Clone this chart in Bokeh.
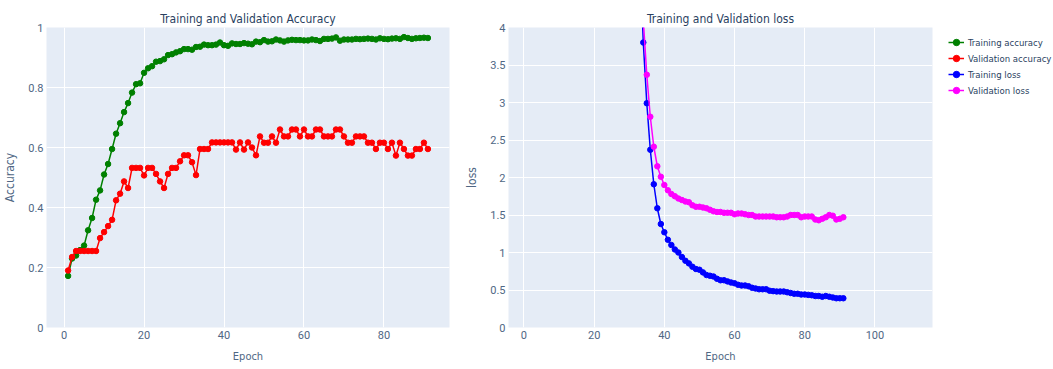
from bokeh.plotting import figure
from bokeh.models import Range1d, FixedTicker, Legend, LegendItem
from bokeh.layouts import row
from bokeh.embed import file_html
from bokeh.resources import INLINE

# ---------------- data ----------------
epochs = list(range(1, 92))

train_acc = [0.172, 0.23, 0.24, 0.258, 0.273, 0.324, 0.365, 0.426, 0.457, 0.51,
             0.545, 0.595, 0.646, 0.681, 0.718, 0.748, 0.783, 0.811, 0.814, 0.849,
             0.864, 0.871, 0.886, 0.888, 0.894, 0.908, 0.911, 0.917, 0.921, 0.928,
             0.928, 0.926, 0.935, 0.936, 0.943, 0.941, 0.941, 0.943, 0.95, 0.941,
             0.939, 0.947, 0.945, 0.945, 0.948, 0.946, 0.944, 0.953, 0.951, 0.958,
             0.953, 0.954, 0.96, 0.957, 0.953, 0.957, 0.959, 0.958, 0.958, 0.957,
             0.957, 0.96, 0.958, 0.955, 0.962, 0.962, 0.963, 0.967, 0.956, 0.96,
             0.96, 0.96, 0.962, 0.961, 0.962, 0.963, 0.962, 0.96, 0.964, 0.962,
             0.961, 0.963, 0.964, 0.962, 0.968, 0.965, 0.962, 0.964, 0.965, 0.966, 0.965]

val_acc = [0.19, 0.235, 0.255, 0.255, 0.255, 0.255, 0.255, 0.255, 0.298, 0.318,
           0.338, 0.359, 0.424, 0.446, 0.487, 0.465, 0.532, 0.532, 0.532, 0.507,
           0.532, 0.532, 0.512, 0.487, 0.465, 0.512, 0.532, 0.532, 0.554, 0.574,
           0.574, 0.551, 0.508, 0.595, 0.595, 0.595, 0.617, 0.617, 0.617, 0.617,
           0.617, 0.617, 0.593, 0.617, 0.593, 0.617, 0.6, 0.574, 0.637, 0.616,
           0.616, 0.637, 0.616, 0.66, 0.637, 0.637, 0.66, 0.66, 0.637, 0.66,
           0.637, 0.637, 0.66, 0.66, 0.637, 0.637, 0.637, 0.66, 0.66, 0.637,
           0.616, 0.616, 0.637, 0.637, 0.637, 0.616, 0.616, 0.595, 0.616, 0.616,
           0.595, 0.616, 0.573, 0.616, 0.595, 0.573, 0.573, 0.595, 0.595, 0.616, 0.595]

loss_epochs = list(range(33, 92))

train_loss = [5.0, 3.80, 2.99, 2.37, 1.91, 1.59, 1.38, 1.27, 1.17, 1.10,
              1.04, 1.00, 0.94, 0.89, 0.855, 0.81, 0.78, 0.77, 0.735, 0.70,
              0.69, 0.68, 0.65, 0.63, 0.63, 0.615, 0.60, 0.59, 0.57, 0.56,
              0.56, 0.55, 0.53, 0.52, 0.51, 0.51, 0.51, 0.49, 0.485, 0.48,
              0.48, 0.48, 0.47, 0.46, 0.45, 0.45, 0.44, 0.44, 0.435, 0.43,
              0.42, 0.42, 0.41, 0.42, 0.41, 0.40, 0.39, 0.39, 0.39]

val_loss = [6.0, 4.1, 3.37, 2.81, 2.41, 2.15, 2.01, 1.90, 1.83, 1.78,
            1.75, 1.72, 1.70, 1.68, 1.67, 1.63, 1.61, 1.61, 1.60, 1.59,
            1.57, 1.55, 1.54, 1.54, 1.53, 1.53, 1.53, 1.51, 1.52, 1.52,
            1.51, 1.50, 1.50, 1.48, 1.48, 1.48, 1.48, 1.48, 1.48, 1.47,
            1.47, 1.47, 1.48, 1.50, 1.50, 1.50, 1.47, 1.48, 1.48, 1.48,
            1.44, 1.43, 1.45, 1.47, 1.50, 1.49, 1.44, 1.45, 1.47]

acc_yticks = [0, 0.2, 0.4, 0.6, 0.8, 1]
acc_ylabels = ["0", "0.2", "0.4", "0.6", "0.8", "1"]
acc_xticks = [0, 20, 40, 60, 80]
loss_yticks = [0, 0.5, 1, 1.5, 2, 2.5, 3, 3.5, 4]
loss_ylabels = ["0", "0.5", "1", "1.5", "2", "2.5", "3", "3.5", "4"]
loss_xticks = [0, 20, 40, 60, 80, 100]

legend_labels = ["Training accuracy", "Validation accuracy", "Training loss", "Validation loss"]
colors = ["green", "red", "blue", "magenta"]

# ---------------- style ----------------
FONT = "DejaVu Sans Condensed"
TFONT = "Roboto"
BG = "#E5ECF6"
TXT = "#2a3f5f"
TICK = "#506784"
H = 369


def style(p, xticks, yticks, ylabels):
    p.background_fill_color = BG
    p.border_fill_color = "white"
    p.outline_line_color = None
    p.xgrid.grid_line_color = "white"
    p.ygrid.grid_line_color = "white"
    p.xgrid.grid_line_width = 1
    p.ygrid.grid_line_width = 1
    p.xaxis.ticker = FixedTicker(ticks=xticks)
    p.yaxis.ticker = FixedTicker(ticks=yticks)
    p.yaxis.major_label_overrides = {t: l for t, l in zip(yticks, ylabels)}
    for ax in p.axis:
        ax.axis_line_color = None
        ax.major_tick_line_color = None
        ax.minor_tick_line_color = None
        ax.major_tick_out = 0
        ax.major_tick_in = 0
        ax.major_label_text_font = TFONT
        ax.major_label_text_font_size = "11px"
        ax.major_label_text_color = TICK
        ax.axis_label_text_font = FONT
        ax.axis_label_text_font_style = "normal"
        ax.axis_label_text_color = TICK
        ax.major_label_standoff = 3
        ax.axis_label_standoff = 8
    p.xaxis.axis_label_text_font_size = "11px"
    p.yaxis.axis_label_text_font_size = "12px"
    p.title.text_font = FONT
    p.title.text_font_size = "12px"
    p.title.text_font_style = "normal"
    p.title.text_color = TXT
    p.title.align = "center"
    p.title.standoff = 3


p1 = figure(width=460, height=H, output_backend="svg", toolbar_location=None,
            x_range=Range1d(-4.4, 96.4), y_range=Range1d(0, 1),
            title="Training and Validation Accuracy",
            min_border_left=45, min_border_right=11, min_border_top=26, min_border_bottom=42)
p1.xaxis.axis_label = "Epoch"
p1.yaxis.axis_label = "Accuracy"
style(p1, acc_xticks, acc_yticks, acc_ylabels)

p1.line(epochs, train_acc, color=colors[0], line_width=1.5)
p1.scatter(epochs, train_acc, color=colors[0], size=5.5)
p1.line(epochs, val_acc, color=colors[1], line_width=1.5)
p1.scatter(epochs, val_acc, color=colors[1], size=5.5)

p2 = figure(width=478, height=H, output_backend="svg", toolbar_location=None,
            x_range=Range1d(-4.4, 116.4), y_range=Range1d(0, 4),
            title="Training and Validation loss",
            min_border_left=48, min_border_right=6, min_border_top=27, min_border_bottom=41)
p2.xaxis.axis_label = "Epoch"
p2.yaxis.axis_label = "loss"
style(p2, loss_xticks, loss_yticks, loss_ylabels)

p2.line(loss_epochs, train_loss, color=colors[2], line_width=1.5)
p2.scatter(loss_epochs, train_loss, color=colors[2], size=5.5)
p2.line(loss_epochs, val_loss, color=colors[3], line_width=1.5)
p2.scatter(loss_epochs, val_loss, color=colors[3], size=5.5)

# legend figure (stand-in renderers carry only NaN, so nothing is plotted)
p3 = figure(width=115, height=H, output_backend="svg", toolbar_location=None,
            x_axis_type=None, y_axis_type=None, min_border=0,
            x_range=Range1d(0, 1), y_range=Range1d(0, 1))
p3.outline_line_color = None
p3.background_fill_color = "white"
p3.border_fill_color = "white"
nan = float("nan")
items = []
for lab, col in zip(legend_labels, colors):
    lr = p3.line(x=[nan], y=[nan], color=col, line_width=1.5)
    sr = p3.scatter(x=[nan], y=[nan], color=col, size=5)
    items.append(LegendItem(label=lab, renderers=[lr, sr]))
legend = Legend(items=items, location=(10, 229), margin=0, padding=0, spacing=0,
                glyph_width=16, glyph_height=16, label_height=16, label_standoff=4,
                border_line_color=None, background_fill_alpha=0,
                label_text_font=FONT, label_text_font_size="9.5px", label_text_color=TXT)
p3.add_layout(legend, "center")

layout = row(p1, p2, p3, spacing=0)
open("out.html", "w").write(file_html(layout, INLINE))
